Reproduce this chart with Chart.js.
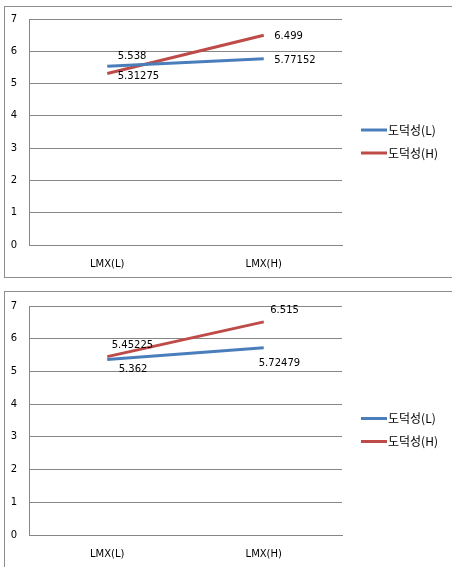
<!DOCTYPE html>
<html>
<head>
<meta charset="utf-8">
<script src="https://cdn.jsdelivr.net/npm/chart.js@4/dist/chart.umd.min.js"></script>
<style>
  html, body { margin: 0; padding: 0; background: #fff; overflow: hidden; }
  body { width: 452px; height: 567px; position: relative; }
  .frame { position: absolute; left: 4px; width: 470px; box-sizing: border-box;
           border: 1px solid #8c8c8c; border-right: none; }
  #frame1 { top: 6px; height: 272px; }
  #frame2 { top: 291px; height: 300px; }
  canvas { position: absolute; left: 0; }
  #c1 { top: 0; }
  #c2 { top: 285px; }
</style>
</head>
<body>
<div class="frame" id="frame1"></div>
<div class="frame" id="frame2"></div>
<canvas id="c1" width="452" height="285"></canvas>
<canvas id="c2" width="452" height="282"></canvas>
<script>
// Categories and series
const categories = ['LMX(L)', 'LMX(H)'];
const seriesNames = ['도덕성(L)', '도덕성(H)'];
const yTicks = [0, 1, 2, 3, 4, 5, 6, 7];

// Upper panel
const upperLow = [5.538, 5.77152];
const upperHigh = [5.31275, 6.499];

// Lower panel
const lowerLow = [5.362, 5.72479];
const lowerHigh = [5.45225, 6.515];

const BLUE = '#4A7EBB';
const RED = '#BE4B48';
const GRID = '#868686';
const FONT = 'DejaVu Sans';

// Writes each point's value next to it; offsets are [dx, dy] from the point
const valueLabels = {
  id: 'valueLabels',
  afterDatasetsDraw(chart, args, opts) {
    const ctx = chart.ctx;
    ctx.save();
    ctx.font = '10px "' + FONT + '"';
    ctx.fillStyle = '#000';
    ctx.textAlign = 'left';
    ctx.textBaseline = 'middle';
    chart.data.datasets.forEach((ds, di) => {
      const meta = chart.getDatasetMeta(di);
      meta.data.forEach((pt, i) => {
        const off = opts.offsets[di][i];
        ctx.fillText(String(ds.data[i]), pt.x + off[0], pt.y + off[1]);
      });
    });
    ctx.restore();
  }
};

// Legend on the right: short line sample followed by the series name
const sideLegend = {
  id: 'sideLegend',
  afterDraw(chart) {
    const ctx = chart.ctx;
    const area = chart.chartArea;
    const x0 = area.right + 19;
    let y = (area.top + area.bottom) / 2 - 2;
    ctx.save();
    chart.data.datasets.forEach(ds => {
      ctx.strokeStyle = ds.borderColor;
      ctx.lineWidth = 3;
      ctx.beginPath();
      ctx.moveTo(x0, y);
      ctx.lineTo(x0 + 26, y);
      ctx.stroke();
      ctx.fillStyle = '#000';
      ctx.font = '12px "Noto Sans CJK KR"';
      ctx.textAlign = 'left';
      ctx.textBaseline = 'middle';
      ctx.fillText(ds.label, x0 + 27, y);
      y += 23;
    });
    ctx.restore();
  }
};

function makeChart(id, lowData, highData, pad, offsets) {
  return new Chart(document.getElementById(id), {
    type: 'line',
    data: {
      labels: categories,
      datasets: [
        { label: seriesNames[0], data: lowData, borderColor: BLUE, backgroundColor: BLUE,
          borderWidth: 3, pointRadius: 0, tension: 0 },
        { label: seriesNames[1], data: highData, borderColor: RED, backgroundColor: RED,
          borderWidth: 3, pointRadius: 0, tension: 0 }
      ]
    },
    options: {
      responsive: false,
      animation: false,
      devicePixelRatio: 1,
      layout: { padding: pad },
      plugins: {
        legend: { display: false },
        tooltip: { enabled: false },
        valueLabels: { offsets: offsets }
      },
      scales: {
        x: {
          offset: true,
          grid: { display: false, drawTicks: false },
          border: { color: GRID, width: 1 },
          ticks: { color: '#000', font: { family: FONT, size: 10 }, padding: 13, maxRotation: 0 },
          afterFit(s) { s.height = 28; }
        },
        y: {
          min: yTicks[0],
          max: yTicks[yTicks.length - 1],
          afterBuildTicks(s) { s.ticks = yTicks.map(v => ({ value: v })); },
          grid: { color: GRID, lineWidth: 1, drawTicks: false },
          border: { color: GRID, width: 1 },
          ticks: { color: '#000', font: { family: FONT, size: 10 }, padding: 12 },
          afterFit(s) { s.width = 29; }
        }
      }
    },
    plugins: [valueLabels, sideLegend]
  });
}

makeChart('c1', upperLow, upperHigh,
  { left: 0, top: 19, right: 110, bottom: 12 },
  [[[10.5, -10], [10.5, 2]], [[10.5, 3], [10.5, 1]]]);

makeChart('c2', lowerLow, lowerHigh,
  { left: 0, top: 21, right: 110, bottom: 4 },
  [[[11.5, 10], [-5, 15.5]], [[4.5, -11], [6.5, -11]]]);
</script>
</body>
</html>
